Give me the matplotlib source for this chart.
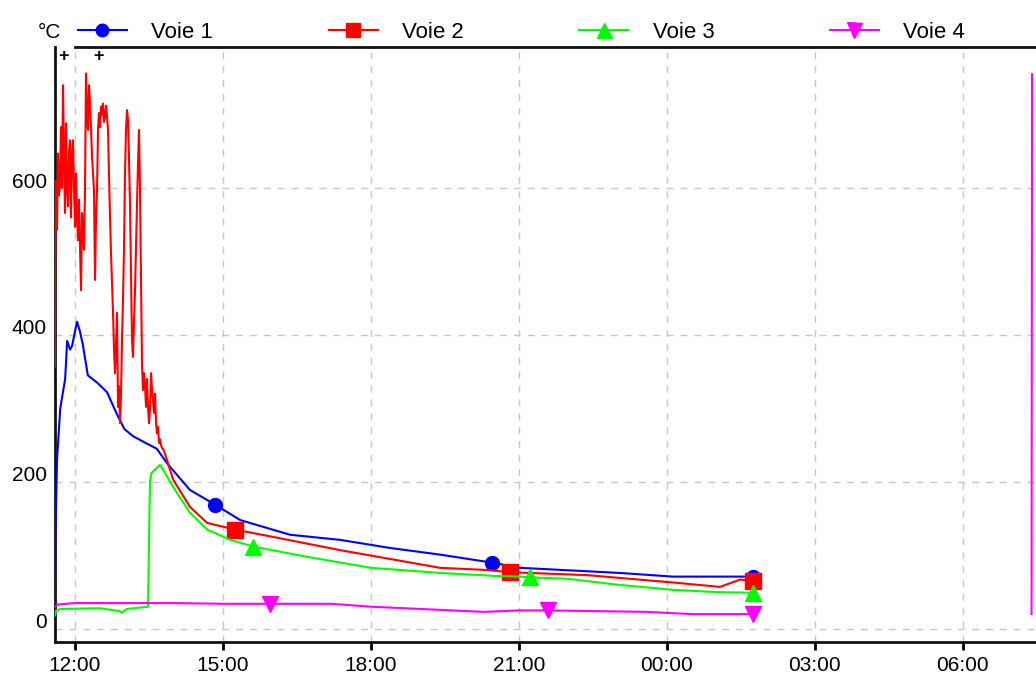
import numpy as np
import matplotlib.pyplot as plt
from matplotlib.transforms import ScaledTranslation

plt.rcParams['font.family'] = ['Liberation Sans', 'DejaVu Sans']

# time in hours from midnight of day 1 (24 = 00:00 next day)
t_voie1 = [11.594, 11.60, 11.635, 11.70, 11.80, 11.84, 11.90, 11.94, 12.00, 12.04, 12.10, 12.16,
           12.26, 12.45, 12.65, 12.85, 13.00, 13.18, 13.46, 13.66, 13.87, 14.33, 14.84, 15.35,
           16.36, 17.38, 18.39, 19.40, 20.46, 21.03, 23.05, 24.13, 25.75]
v_voie1 = [20, 120, 230, 300, 340, 392, 380, 385, 405, 418, 405, 386,
           345, 335, 322, 292, 272, 262, 252, 245, 225, 189, 169, 148,
           128, 121, 110, 101, 90, 83, 76, 71, 71]

t_voie2 = [11.594, 11.604, 11.615, 11.635, 11.655, 11.675, 11.696, 11.716, 11.736, 11.757,
           11.777, 11.797, 11.817, 11.838, 11.858, 11.878, 11.899, 11.919, 11.939, 11.959,
           11.980, 12.000, 12.020, 12.041, 12.061, 12.081, 12.101, 12.122, 12.142, 12.162,
           12.183, 12.203, 12.223, 12.243, 12.264, 12.284, 12.304, 12.325, 12.345, 12.365,
           12.385, 12.406, 12.426, 12.446, 12.467, 12.487, 12.507, 12.527, 12.548, 12.568,
           12.588, 12.609, 12.629, 12.649, 12.669, 12.690, 12.710, 12.730, 12.751, 12.771,
           12.791, 12.811, 12.832, 12.852, 12.872, 12.892, 12.913, 12.933, 12.953, 12.974,
           12.994, 13.014, 13.034, 13.055, 13.075, 13.095, 13.116, 13.136, 13.156, 13.176,
           13.197, 13.217, 13.237, 13.258, 13.278, 13.298, 13.318, 13.339, 13.359, 13.379,
           13.400, 13.420, 13.440, 13.460, 13.481, 13.501, 13.521, 13.542, 13.562, 13.582,
           13.602, 13.623, 13.643, 13.663, 13.684, 13.704, 13.724, 13.744, 13.765, 13.785,
           13.826, 13.99, 14.33, 14.68, 15.25, 16.02, 17.38, 18.73, 19.40, 20.36,
           20.82, 22.39, 24.13, 25.08, 25.49, 25.75]
v_voie2 = [357, 566, 610, 543, 647, 590, 606, 683, 600, 740,
           640, 566, 688, 600, 575, 650, 665, 560, 643, 665,
           600, 547, 620, 560, 529, 584, 520, 461, 566, 540,
           516, 600, 756, 700, 679, 740, 715, 680, 643, 620,
           597, 475, 560, 597, 680, 702, 683, 711, 700, 715,
           690, 697, 712, 697, 680, 615, 560, 511, 470, 430,
           380, 348, 390, 430, 302, 330, 280, 320, 393, 450,
           520, 620, 680, 706, 692, 640, 575, 480, 393, 370,
           420, 461, 520, 580, 634, 679, 600, 470, 360, 325,
           348, 330, 302, 340, 300, 280, 300, 348, 325, 310,
           294, 320, 280, 266, 275, 253, 258, 250, 246, 245,
           238, 203, 166, 144, 135, 125, 107, 91, 83, 80,
           77, 73, 63, 57, 67, 65]

t_voie3 = [11.594, 11.62, 11.70, 12.50, 12.90, 12.95, 13.05, 13.48, 13.52, 13.55, 13.72, 13.80,
           13.99, 14.33, 14.68, 15.15, 15.61, 16.70, 18.00, 19.40, 20.50, 21.03, 21.23, 22.00,
           23.00, 24.13, 25.00, 25.75]
v_voie3 = [18, 25, 27, 28, 24, 22, 27, 30, 200, 212, 223, 215,
           193, 158, 135, 121, 112, 98, 83, 76, 72, 71, 70, 68,
           60, 53, 50, 49]

t_voie4 = [11.594, 11.65, 12.00, 13.00, 14.00, 15.00, 15.96, 17.20, 18.00, 19.00, 20.30, 21.00,
           21.59, 23.60, 24.50, 25.75, 28.00, 31.40, 31.41]
v_voie4 = [30, 33, 35, 35, 35, 34, 34, 34, 30, 27, 23, 25,
           25, 23, 20, 20, np.nan, 20, 755]

# times where the logger software put a marker on each curve
mark_voie1 = [14.84, 20.46, 25.75]
mark_voie2 = [15.25, 20.82, 25.75]
mark_voie3 = [15.61, 21.23, 25.75]
mark_voie4 = [15.96, 21.59, 25.75]

labels = ['Voie 1', 'Voie 2', 'Voie 3', 'Voie 4']
tick_hours = [12, 15, 18, 21, 24, 27, 30]
tick_labels = ['12:00', '15:00', '18:00', '21:00', '00:00', '03:00', '06:00']
y_ticks = [0, 200, 400, 600]

fig = plt.figure(figsize=(10.36, 6.82), dpi=100)
ax = fig.add_axes([55 / 1036, 1 - 642 / 682, 981 / 1036, 595 / 682])

series = [(t_voie1, v_voie1, mark_voie1, '#0000ff', 'o', 10),
          (t_voie2, v_voie2, mark_voie2, '#ff0000', 's', 11),
          (t_voie3, v_voie3, mark_voie3, '#00ff00', '^', 12),
          (t_voie4, v_voie4, mark_voie4, '#ff00ff', 'v', 12)]

handles = []
for (t, v, mk, c, m, ms), lab in zip(series, labels):
    t = np.array(t)
    idx = [int(np.argmin(np.abs(t - x))) for x in mk]
    ln, = ax.plot(t, v, color=c, lw=1.5, marker=m, ms=ms,
                  markevery=idx, label=lab, zorder=3)
    handles.append(ln)

ax.set_xlim(11.594, 31.49)
ax.set_ylim(-18, 792)
ax.set_xticks(tick_hours)
ax.set_xticklabels(tick_labels)
ax.set_yticks(y_ticks)
ax.grid(True, color='#c8c8c8', linestyle=(0, (5, 5)), lw=1)

for s in ['top', 'left', 'bottom']:
    ax.spines[s].set_linewidth(2)
    ax.spines[s].set_color('#111111')
ax.spines['top'].set_bounds(12.0, 31.49)
ax.spines['right'].set_visible(False)
ax.tick_params(axis='x', length=6, width=2, pad=4, labelsize=15)
ax.tick_params(axis='y', length=0, pad=6, labelsize=15)
for lbl in ax.get_yticklabels():
    lbl.set_transform(lbl.get_transform() + ScaledTranslation(0, 8 / 100, fig.dpi_scale_trans))

# event marks at the top
for x in [11.76, 12.47]:
    ax.text(x, 779, '+', ha='center', va='center', fontsize=13, fontweight='bold')

fig.text(38 / 1036, 1 - 32 / 682, '°C', fontsize=15, va='center', ha='left')
fig.legend(handles=handles, labels=labels, ncol=4, loc='center left',
           bbox_to_anchor=(78 / 1036, 1 - 32 / 682), frameon=False, fontsize=16,
           handlelength=2.2, handletextpad=1.1, columnspacing=5.2, borderaxespad=0,
           borderpad=0, markerscale=0.9)

fig.savefig('out.png', dpi=100)
